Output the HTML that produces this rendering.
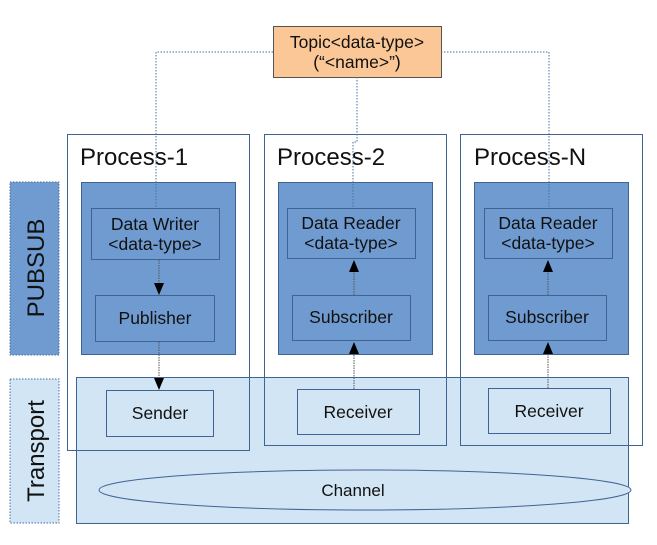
<!DOCTYPE html>
<html><head><meta charset="utf-8"><style>
body{margin:0;background:#fff}
svg{display:block;font-family:"Liberation Sans",sans-serif}
</style></head><body>
<svg width="657" height="545" viewBox="0 0 657 545" xmlns="http://www.w3.org/2000/svg">
<!-- side labels -->
<rect x="10" y="182" width="49" height="173" fill="#6f9bd0" stroke="#4a6fa0" stroke-dasharray="1.5,1.5"/>
<text transform="translate(44,268) rotate(-90)" text-anchor="middle" font-size="24" fill="#111">PUBSUB</text>
<rect x="10" y="379" width="49" height="144" fill="#d2e5f4" stroke="#4a6fa0" stroke-dasharray="1.5,1.5"/>
<text transform="translate(44,451) rotate(-90)" text-anchor="middle" font-size="24" fill="#111">Transport</text>
<!-- transport -->
<rect x="76.5" y="377.5" width="552" height="146" fill="#d2e5f4" stroke="#3f6494"/>
<ellipse cx="365" cy="490" rx="266" ry="20" fill="#d2e5f4" stroke="#3f6494"/>
<text x="353" y="496" text-anchor="middle" font-size="17" fill="#111">Channel</text>
<!-- process frames -->
<rect x="67.5" y="134.5" width="182" height="316" fill="none" stroke="#3f6494"/>
<rect x="264.5" y="134.5" width="182" height="311" fill="none" stroke="#3f6494"/>
<rect x="460.5" y="134.5" width="182" height="311" fill="none" stroke="#3f6494"/>
<rect x="68" y="135" width="181" height="242" fill="#fff"/>
<rect x="265" y="135" width="181" height="242" fill="#fff"/>
<rect x="461" y="135" width="181" height="242" fill="#fff"/>
<text x="80" y="165" font-size="24" fill="#111">Process-1</text>
<text x="277" y="165" font-size="24" fill="#111">Process-2</text>
<text x="474" y="165" font-size="24" fill="#111">Process-N</text>
<!-- inner -->
<g fill="#6f9bd0" stroke="#3f6494">
<rect x="81.5" y="182.5" width="154" height="172"/>
<rect x="278.5" y="182.5" width="154" height="172"/>
<rect x="474.5" y="182.5" width="154" height="172"/>
<rect x="91.5" y="208.5" width="128" height="51"/>
<rect x="287.5" y="208.5" width="128" height="50"/>
<rect x="484.5" y="208.5" width="128" height="50"/>
<rect x="95.5" y="295.5" width="119" height="46"/>
<rect x="292.5" y="295.5" width="118" height="45"/>
<rect x="488.5" y="295.5" width="118" height="45"/>
</g>
<g fill="#d2e5f4" stroke="#3f6494">
<rect x="106.5" y="390.5" width="107" height="46"/>
<rect x="297.5" y="389.5" width="122" height="45"/>
<rect x="488.5" y="388.5" width="122" height="45"/>
</g>
<g font-size="17.5" fill="#111" text-anchor="middle">
<text x="155" y="230">Data Writer</text><text x="155" y="250">&lt;data-type&gt;</text>
<text x="351" y="229">Data Reader</text><text x="351" y="249">&lt;data-type&gt;</text>
<text x="548" y="229">Data Reader</text><text x="548" y="249">&lt;data-type&gt;</text>
<text x="155" y="324">Publisher</text>
<text x="351" y="323">Subscriber</text>
<text x="547" y="323">Subscriber</text>
<text x="160" y="419">Sender</text>
<text x="358" y="418">Receiver</text>
<text x="549" y="417">Receiver</text>
</g>
<!-- topic -->
<rect x="273.5" y="26.5" width="168" height="51" fill="#fbc796" stroke="#555"/>
<text x="357" y="48" text-anchor="middle" font-size="17.5" fill="#111">Topic&lt;data-type&gt;</text>
<text x="357" y="68" text-anchor="middle" font-size="17.5" fill="#111">(“&lt;name&gt;”)</text>
<g fill="none" stroke="#4a6fa0" stroke-dasharray="1.5,1.5">
<path d="M273,52 H156 V208"/>
<path d="M357,77 V142 H353 V208"/>
<path d="M441,52 H549 V208"/>
</g>
<!-- arrows -->
<g stroke="#555" stroke-dasharray="1.5,1" fill="none">
<path d="M159,260 V284"/>
<path d="M159,342 V379"/>
<path d="M354,295 V271"/>
<path d="M354,389 V353"/>
<path d="M548,295 V271"/>
<path d="M548,388 V353"/>
</g>
<g fill="#000">
<polygon points="154,283 164,283 159,295"/>
<polygon points="154,378 164,378 159,390"/>
<polygon points="349,272 359,272 354,260"/>
<polygon points="349,354 359,354 354,342"/>
<polygon points="543,272 553,272 548,260"/>
<polygon points="543,354 553,354 548,342"/>
</g>
</svg>
</body></html>
